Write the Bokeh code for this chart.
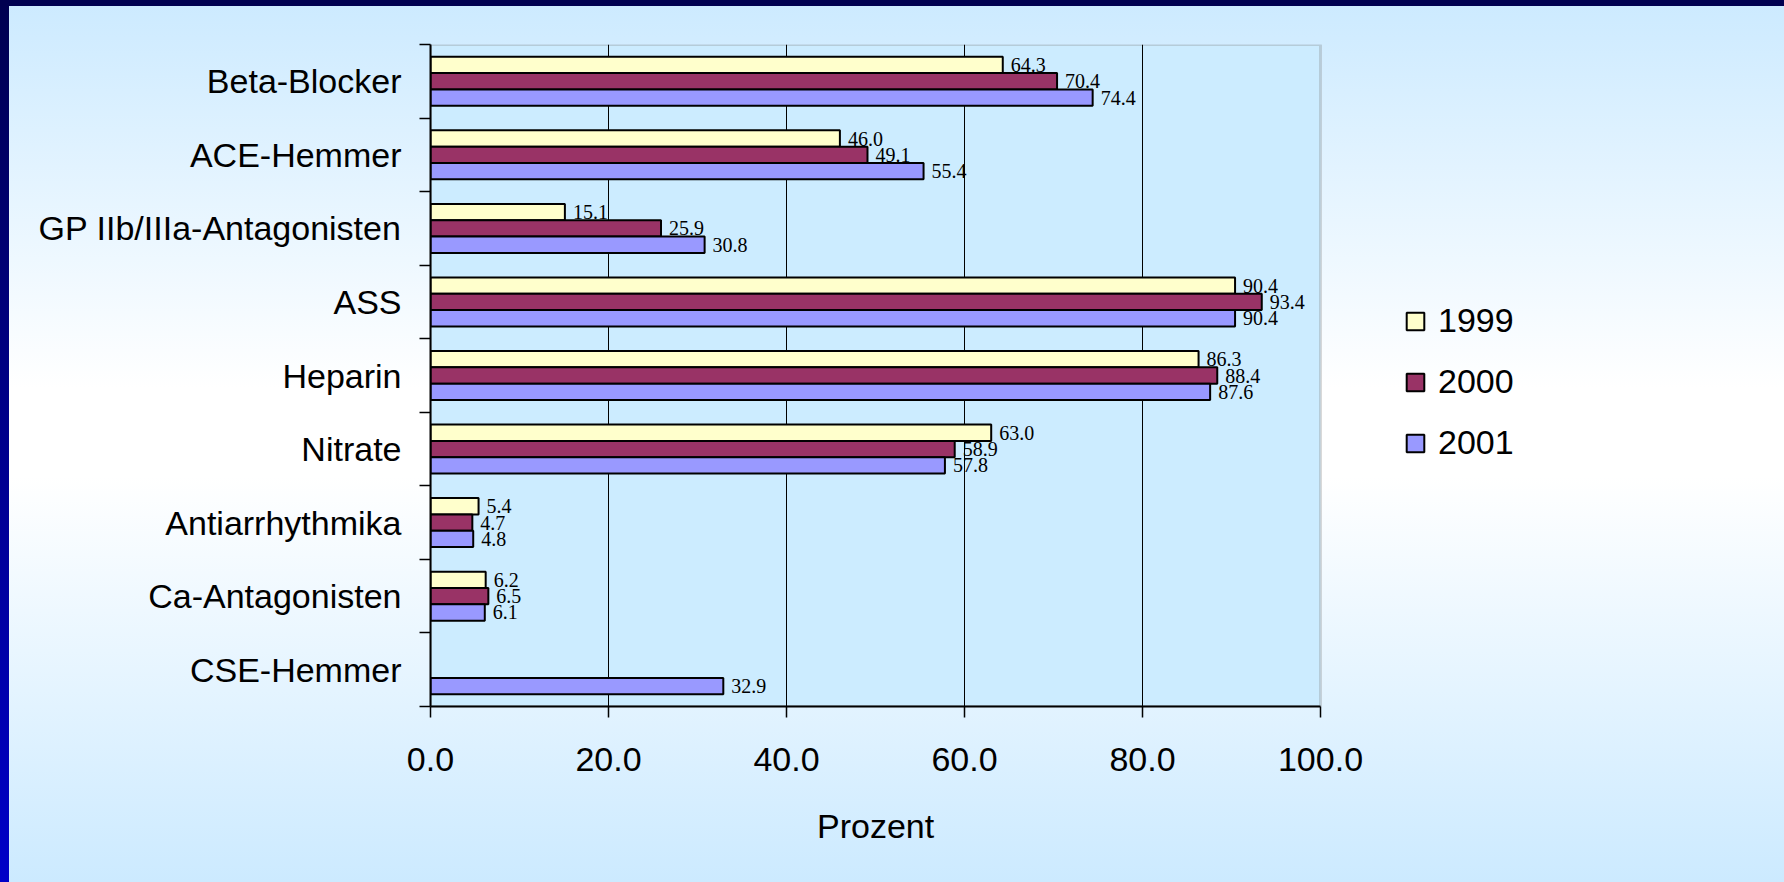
import math

from bokeh.core.properties import value
from bokeh.embed import file_html
from bokeh.models import (BoxAnnotation, ColumnDataSource, FixedTicker,
                          LabelSet, Legend, LegendItem, NumeralTickFormatter,
                          Range1d, Title)
from bokeh.plotting import figure
from bokeh.resources import INLINE

# Medication share per year (percent), listed top to bottom
categories = ["Beta-Blocker", "ACE-Hemmer", "GP IIb/IIIa-Antagonisten", "ASS",
              "Heparin", "Nitrate", "Antiarrhythmika", "Ca-Antagonisten",
              "CSE-Hemmer"]
years = ["1999", "2000", "2001"]
v1999 = [64.3, 46.0, 15.1, 90.4, 86.3, 63.0, 5.4, 6.2, float("nan")]
v2000 = [70.4, 49.1, 25.9, 93.4, 88.4, 58.9, 4.7, 6.5, float("nan")]
v2001 = [74.4, 55.4, 30.8, 90.4, 87.6, 57.8, 4.8, 6.1, 32.9]
x_ticks = [0, 20, 40, 60, 80, 100]
x_title = "Prozent"

series = [v1999, v2000, v2001]
colors = ["#FFFFCC", "#993366", "#9999FF"]

n = len(categories)
bar_h = 0.222
centers = [n - i - 0.5 for i in range(n)]
boundaries = list(range(n + 1))

SANS = "Liberation Sans"
SERIF = "Liberation Serif"

# Canvas layout: the 0..100 value area is 890 px wide, starting 430 px in;
# the frame runs on to the right edge so the legend can sit beside the bars.
W, H = 1784, 882
LEFT, TOP, BOTTOM = 430, 44, 176
AREA_W = 890
x_max = x_ticks[-1]
x_end = x_max * (W - LEFT) / AREA_W

p = figure(width=W, height=H, output_backend="svg", toolbar_location=None,
           x_range=Range1d(0, x_end), y_range=Range1d(0, n),
           min_border_left=LEFT, min_border_right=0,
           min_border_top=TOP, min_border_bottom=BOTTOM)

p.border_fill_color = None
p.background_fill_color = None
p.outline_line_color = None
p.styles = {
    "background": (
        "linear-gradient(to bottom, #000050 0px, #000050 6px, transparent 6px), "
        "linear-gradient(to bottom, #000050, #0000C8) left top / 9px 100% no-repeat, "
        "linear-gradient(to bottom, #CCEAFF 0%, #FFFFFF 44%, #FFFFFF 54%, #CCEAFF 100%)"
    )
}

# plot area panel with grey border
p.add_layout(BoxAnnotation(left=0, right=x_max, bottom=0, top=n,
                           fill_color="#CCECFF", fill_alpha=1,
                           line_color="#808080", line_width=3, level="image"))

renderers = []
for k, (vals, col) in enumerate(zip(series, colors)):
    offset = (1 - k) * bar_h
    ys = [c + offset for c in centers]
    src = ColumnDataSource(dict(
        y=ys, v=vals,
        txt=["" if math.isnan(v) else f"{v:.1f}" for v in vals],
    ))
    r = p.hbar(y="y", left=0, right="v", height=bar_h, source=src,
               fill_color=col, line_color="black", line_width=2)
    renderers.append(r)
    p.add_layout(LabelSet(x="v", y="y", text="txt", source=src,
                          x_offset=8, text_baseline="middle",
                          text_font=value(SERIF), text_font_size="20px",
                          text_color="black"))

# x axis
p.xaxis.bounds = (0, x_max)
p.xaxis.ticker = FixedTicker(ticks=x_ticks)
p.xaxis.formatter = NumeralTickFormatter(format="0.0")
p.xaxis.major_tick_out = 11
p.xaxis.major_tick_in = 0
p.xaxis.major_tick_line_color = "black"
p.xaxis.major_tick_line_width = 1.5
p.xaxis.axis_line_color = "black"
p.xaxis.axis_line_width = 2
p.xaxis.major_label_text_font = SANS
p.xaxis.major_label_text_font_size = "34px"
p.xaxis.major_label_text_color = "black"
p.xaxis.major_label_standoff = 30

# axis title, centred under the 0..100 span
title_w = 117  # approx. rendered width of the title text at 34px
p.add_layout(Title(text=x_title, text_font=SANS, text_font_size="34px",
                   text_font_style="normal", text_color="black",
                   align="left", offset=AREA_W / 2 - title_w / 2,
                   vertical_align="bottom", standoff=63), "below")

# y axis: names at band centres, tick marks at band boundaries
p.yaxis.ticker = FixedTicker(ticks=centers, minor_ticks=boundaries)
p.yaxis.major_label_overrides = {c: name for c, name in zip(centers, categories)}
p.yaxis.major_tick_out = 0
p.yaxis.major_tick_in = 0
p.yaxis.minor_tick_out = 11
p.yaxis.minor_tick_in = 0
p.yaxis.minor_tick_line_color = "black"
p.yaxis.minor_tick_line_width = 1.5
p.yaxis.axis_line_color = "black"
p.yaxis.axis_line_width = 2
p.yaxis.major_label_text_font = SANS
p.yaxis.major_label_text_font_size = "34px"
p.yaxis.major_label_text_color = "black"
p.yaxis.major_label_standoff = 18

p.xgrid.ticker = FixedTicker(ticks=x_ticks[1:-1])
p.xgrid.grid_line_color = "black"
p.xgrid.grid_line_width = 1
p.ygrid.grid_line_color = None

legend = Legend(
    items=[LegendItem(label=y, renderers=[r]) for y, r in zip(years, renderers)],
    location=(974, 244), orientation="vertical",
    label_text_font=SANS, label_text_font_size="34px", label_text_color="black",
    glyph_width=22, glyph_height=22, label_standoff=12, spacing=22,
    padding=10, margin=0, border_line_color=None, background_fill_alpha=0,
)
p.add_layout(legend, "center")

open("out.html", "w").write(file_html(p, INLINE))
